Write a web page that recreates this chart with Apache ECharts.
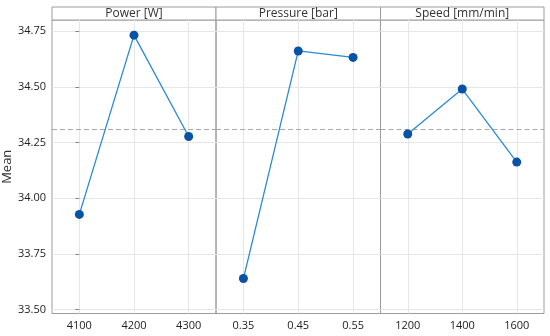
<!DOCTYPE html>
<html><head><meta charset="utf-8">
<script src="https://cdn.jsdelivr.net/npm/echarts@6/dist/echarts.min.js"></script>
<style>html,body{margin:0;padding:0;background:#fff}#c{width:550px;height:336px}</style>
</head><body><div id="c"></div>
<script>
const panelTitles = ['Power [W]', 'Pressure [bar]', 'Speed [mm/min]'];
const powerCats = ['4100', '4200', '4300'];
const pressureCats = ['0.35', '0.45', '0.55'];
const speedCats = ['1200', '1400', '1600'];
const powerMeans = [33.927, 34.732, 34.277];
const pressureMeans = [33.639, 34.661, 34.632];
const speedMeans = [34.288, 34.490, 34.162];
const grandMean = 34.313;
const yTicks = [33.50, 33.75, 34.00, 34.25, 34.50, 34.75];

const catsList = [powerCats, pressureCats, speedCats];
const valsList = [powerMeans, pressureMeans, speedMeans];
const FONT = '"Open Sans", "Noto Sans", sans-serif';
const lefts = [52, 216, 380.5];
const widths = [164, 164.5, 163.5];
const TOP = 20, BOTTOM = 22.5;

const chart = echarts.init(document.getElementById('c'), null, {renderer: 'canvas'});
const grids = [], xAxes = [], yAxes = [], series = [], graphics = [];
for (let i = 0; i < 3; i++) {
  grids.push({left: lefts[i], width: widths[i], top: TOP, bottom: BOTTOM, show: true, borderColor: '#9c9c9c', borderWidth: 1, containLabel: false});
  const cats = catsList[i];
  xAxes.push({
    type: 'value', gridIndex: i, min: -0.5, max: 2.5,
    axisLine: {show: false}, axisTick: {show: false, customValues: [0, 1, 2]},
    axisLabel: {customValues: [0, 1, 2], formatter: v => cats[Math.round(v)], color: '#222', fontFamily: FONT, fontSize: 11, margin: 7},
    splitLine: {show: true, lineStyle: {color: '#e6e6e6', width: 1}}
  });
  yAxes.push({
    type: 'value', gridIndex: i, min: 33.482, max: 34.80,
    axisLine: {show: false},
    axisTick: {show: i === 0, customValues: yTicks, length: 4, lineStyle: {color: '#888'}},
    axisLabel: {show: i === 0, customValues: yTicks, formatter: v => v.toFixed(2), color: '#222', fontFamily: FONT, fontSize: 11, margin: 6},
    splitLine: {show: true, lineStyle: {color: '#e6e6e6', width: 1}},
    name: i === 0 ? 'Mean' : '', nameLocation: 'middle', nameGap: 38, nameRotate: 90,
    nameTextStyle: {color: '#333', fontFamily: FONT, fontSize: 13}
  });
  series.push({
    type: 'line', xAxisIndex: i, yAxisIndex: i,
    data: valsList[i].map((v, j) => [j, v]),
    symbol: 'circle', symbolSize: 9,
    lineStyle: {color: '#2a8ad4', width: 1.3},
    itemStyle: {color: '#0a52a6'},
    z: 5,
    markLine: {
      silent: true, symbol: 'none', label: {show: false},
      lineStyle: {color: '#a8a8a8', type: [5, 3], width: 1},
      data: [{yAxis: grandMean}], z: 3
    }
  });
  graphics.push({
    type: 'rect', shape: {x: lefts[i], y: 7, width: widths[i], height: 13},
    style: {fill: '#fff', stroke: '#9c9c9c', lineWidth: 1}
  });
  graphics.push({
    type: 'text', x: lefts[i] + widths[i] / 2, y: 13.8,
    style: {text: panelTitles[i], fill: '#333', font: '12px ' + FONT, textAlign: 'center', textVerticalAlign: 'middle'}
  });
}
chart.setOption({
  animation: false,
  backgroundColor: '#fff',
  grid: grids, xAxis: xAxes, yAxis: yAxes, series: series,
  graphic: graphics
});
</script></body></html>
